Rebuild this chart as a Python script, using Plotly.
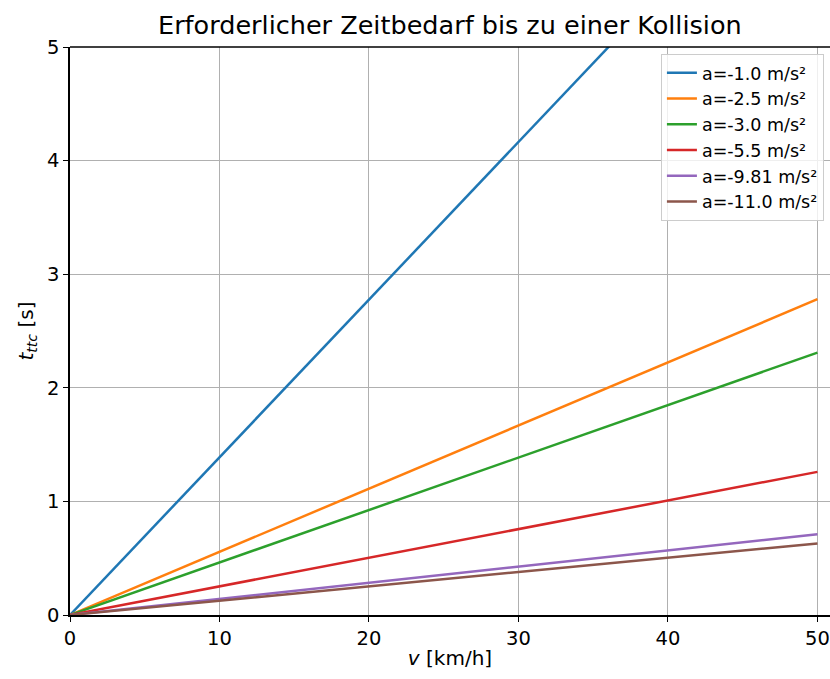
import plotly.graph_objects as go

v_kmh = [0, 50]
labels = ["a=-1.0 m/s²", "a=-2.5 m/s²", "a=-3.0 m/s²", "a=-5.5 m/s²", "a=-9.81 m/s²", "a=-11.0 m/s²"]
t_ttc = [
    [0, 6.94],
    [0, 2.78],
    [0, 2.31],
    [0, 1.26],
    [0, 0.71],
    [0, 0.63],
]
colors = ["#1f77b4", "#ff7f0e", "#2ca02c", "#d62728", "#9467bd", "#8c564b"]

fig = go.Figure()
for lab, ys, c in zip(labels, t_ttc, colors):
    fig.add_trace(go.Scatter(x=v_kmh, y=ys, mode="lines", name=lab,
                             line=dict(color=c, width=2.5)))

font = "DejaVu Sans, sans-serif"
fig.update_layout(
    width=830, height=679,
    margin=dict(l=70, r=0, t=47, b=64),
    plot_bgcolor="white", paper_bgcolor="white",
    font=dict(family=font, size=19, color="black"),
    title=dict(text="Erforderlicher Zeitbedarf bis zu einer Kollision",
               x=0.542, xanchor="center", y=0.963, yanchor="middle",
               font=dict(size=25.5)),
    showlegend=True,
    legend=dict(x=0.992, xanchor="right", y=0.988, yanchor="top",
                bgcolor="rgba(255,255,255,0.8)", bordercolor="#cccccc", borderwidth=1,
                font=dict(size=17.5), tracegroupgap=0, itemwidth=30),
    xaxis=dict(range=[0, 50.84], tickvals=[0, 10, 20, 30, 40, 50],
               showgrid=True, gridcolor="#b0b0b0", gridwidth=1,
               showline=True, linecolor="black", linewidth=1.5,
               ticks="outside", ticklen=5, tickcolor="black", tickwidth=1.2,
               zeroline=False, tickfont=dict(size=19.5),
               title=dict(text="<i>v</i> [km/h]", standoff=2, font=dict(size=20))),
    yaxis=dict(range=[0, 5], tickvals=[0, 1, 2, 3, 4, 5],
               showgrid=True, gridcolor="#b0b0b0", gridwidth=1,
               showline=True, linecolor="black", linewidth=1.5,
               ticks="outside", ticklen=5, tickcolor="black", tickwidth=1.2,
               zeroline=False, tickfont=dict(size=19.5),
               title=dict(text="<i>t</i><sub><i>ttc</i></sub> [s]", standoff=8, font=dict(size=20))),
)
fig.add_shape(type="line", xref="paper", yref="paper", x0=0, x1=1, y0=1, y1=1,
              line=dict(color="black", width=1.5))
fig.write_html("out.html")
